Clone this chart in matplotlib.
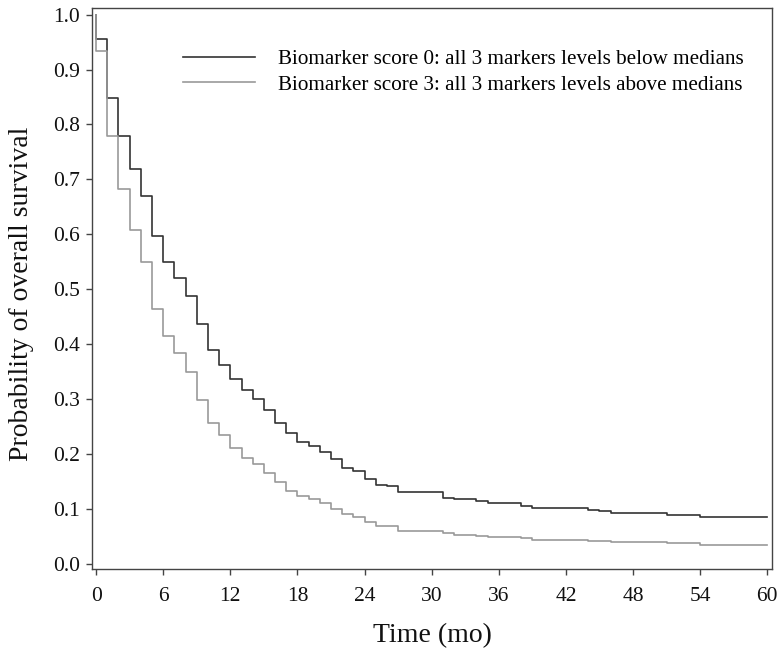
import matplotlib
matplotlib.use("Agg")
import matplotlib.pyplot as plt

plt.rcParams['font.family'] = ['Liberation Serif', 'DejaVu Serif']

# Kaplan-Meier step data (time in months, survival probability)
time_score0 = [0, 0, 1, 2, 3, 4, 5, 6, 7, 8, 9, 10, 11, 12, 13, 14, 15, 16, 17, 18, 19,
               20, 21, 22, 23, 24, 25, 26, 27, 31, 32, 34, 35, 38, 39, 44, 45, 46, 51, 54, 60]
surv_score0 = [1.0, 0.956, 0.848, 0.779, 0.719, 0.669, 0.597, 0.549, 0.520, 0.488, 0.436,
               0.389, 0.361, 0.336, 0.316, 0.300, 0.280, 0.257, 0.238, 0.222, 0.215,
               0.204, 0.191, 0.175, 0.168, 0.154, 0.144, 0.141, 0.131, 0.120, 0.118,
               0.114, 0.110, 0.105, 0.102, 0.098, 0.095, 0.093, 0.089, 0.085, 0.085]

time_score3 = [0, 0, 1, 2, 3, 4, 5, 6, 7, 8, 9, 10, 11, 12, 13, 14, 15, 16, 17, 18, 19,
               20, 21, 22, 23, 24, 25, 27, 31, 32, 34, 35, 38, 39, 44, 46, 51, 54, 60]
surv_score3 = [1.0, 0.933, 0.779, 0.683, 0.608, 0.549, 0.464, 0.415, 0.383, 0.349, 0.298,
               0.257, 0.235, 0.211, 0.193, 0.182, 0.166, 0.148, 0.133, 0.123, 0.117,
               0.110, 0.100, 0.090, 0.085, 0.075, 0.069, 0.060, 0.055, 0.052,
               0.050, 0.048, 0.046, 0.043, 0.041, 0.039, 0.037, 0.034, 0.034]

labels = ["Biomarker score 0: all 3 markers levels below medians",
          "Biomarker score 3: all 3 markers levels above medians"]
x_ticks = [0, 6, 12, 18, 24, 30, 36, 42, 48, 54, 60]
y_ticks = [0.0, 0.1, 0.2, 0.3, 0.4, 0.5, 0.6, 0.7, 0.8, 0.9, 1.0]

fig = plt.figure(figsize=(7.78, 6.51), dpi=100)
ax = fig.add_axes([0.1183, 0.126, 0.8740, 0.8617])

ax.step(time_score0, surv_score0, where='post', color='#333333', lw=1.2, label=labels[0])
ax.step(time_score3, surv_score3, where='post', color='#999999', lw=1.2, label=labels[1])

ax.set_xlim(-0.36, 60.42)
ax.set_ylim(-0.0097, 1.012)
ax.set_xticks(x_ticks)
ax.set_yticks(y_ticks)
ax.set_yticklabels([f"{v:.1f}" for v in y_ticks])

for sp in ax.spines.values():
    sp.set_color('#444444')
    sp.set_linewidth(1.0)
ax.tick_params(direction='out', length=4.3, width=1.0, color='#444444',
               labelsize=15.5, labelcolor='#111111')
ax.tick_params(axis='x', pad=8.5)
ax.tick_params(axis='y', pad=4.5)

ax.set_xlabel("Time (mo)", fontsize=20, color='#111111')
ax.set_ylabel("Probability of overall survival", fontsize=20, color='#111111')
ax.xaxis.set_label_coords(0.5, -0.097)
ax.yaxis.set_label_coords(-0.086, 0.49)

leg = ax.legend(loc='upper left', bbox_to_anchor=(0.122, 0.941), frameon=False,
                fontsize=15.2, handlelength=3.4, handletextpad=1.1, labelspacing=0.27,
                borderaxespad=0)

fig.savefig("out.png", dpi=100)
